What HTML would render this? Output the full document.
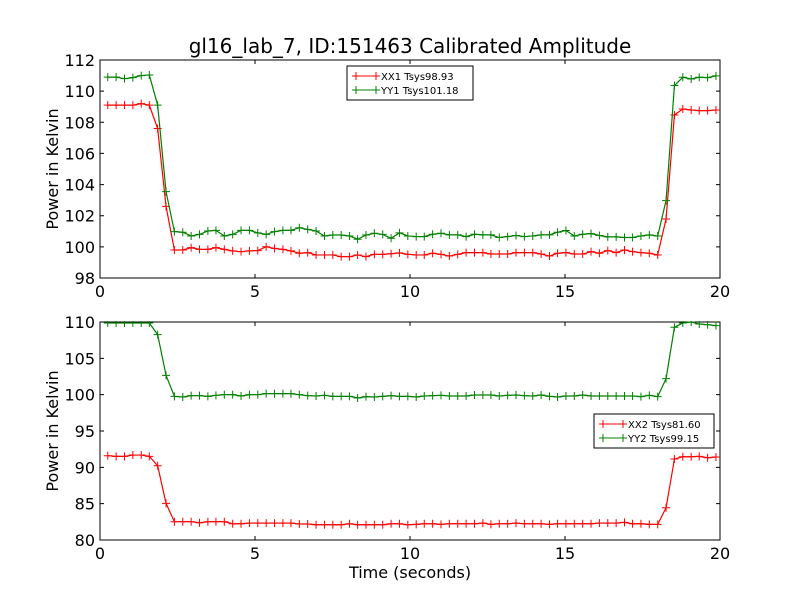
<!DOCTYPE html>
<html><head><meta charset="utf-8"><style>
body{margin:0;background:#fff;}
svg{display:block;font-family:"DejaVu Sans","Liberation Sans",sans-serif;}
</style></head><body>
<svg id="chart" width="800" height="600" viewBox="0 0 800 600">
<rect width="800" height="600" fill="#fff"/>
<text x="410" y="53" font-size="20" text-anchor="middle">gl16_lab_7, ID:151463 Calibrated Amplitude</text>
<text x="410" y="578" font-size="16" text-anchor="middle">Time (seconds)</text>
<g id="top"></g>
<g id="bottom"></g>
</svg>
<script>
const times = [0.25,0.52,0.79,1.06,1.33,1.59,1.86,2.13,2.40,2.67,2.94,3.21,3.48,3.74,4.01,4.28,4.55,4.82,5.09,5.36,5.63,5.90,6.16,6.43,6.70,6.97,7.24,7.51,7.78,8.05,8.31,8.58,8.85,9.12,9.39,9.66,9.93,10.20,10.46,10.73,11.00,11.27,11.54,11.81,12.08,12.35,12.61,12.88,13.15,13.42,13.69,13.96,14.23,14.50,14.76,15.03,15.30,15.57,15.84,16.11,16.38,16.65,16.92,17.18,17.45,17.72,17.99,18.26,18.53,18.80,19.07,19.33,19.60,19.87];
const xx1 = [109.1,109.1,109.1,109.1,109.2,109.1,107.6,102.6,99.8,99.8,99.95,99.84,99.84,99.95,99.84,99.74,99.69,99.74,99.76,100.01,99.9,99.84,99.74,99.59,99.63,99.48,99.48,99.48,99.37,99.37,99.48,99.37,99.52,99.52,99.56,99.61,99.52,99.48,99.48,99.59,99.52,99.41,99.52,99.63,99.63,99.63,99.54,99.54,99.54,99.63,99.63,99.63,99.54,99.41,99.59,99.63,99.54,99.54,99.69,99.59,99.76,99.63,99.8,99.69,99.63,99.59,99.48,101.79,108.47,108.85,108.79,108.75,108.75,108.79];
const yy1 = [110.9,110.9,110.8,110.87,111.0,111.04,109.1,103.55,100.98,100.94,100.7,100.8,101.02,101.06,100.7,100.8,101.06,101.06,100.9,100.8,100.98,101.06,101.06,101.23,101.12,101.02,100.7,100.76,100.76,100.7,100.49,100.76,100.87,100.8,100.55,100.9,100.7,100.66,100.66,100.81,100.87,100.77,100.77,100.66,100.81,100.77,100.77,100.6,100.66,100.73,100.66,100.7,100.77,100.77,100.94,101.05,100.7,100.81,100.85,100.73,100.64,100.64,100.6,100.6,100.7,100.77,100.7,102.97,110.36,110.89,110.78,110.89,110.87,110.98];
const xx2 = [91.6,91.51,91.51,91.69,91.69,91.51,90.22,85.04,82.52,82.52,82.52,82.38,82.52,82.52,82.52,82.24,82.24,82.33,82.33,82.33,82.33,82.33,82.33,82.2,82.2,82.1,82.1,82.1,82.1,82.24,82.1,82.1,82.1,82.1,82.24,82.24,82.1,82.15,82.24,82.24,82.15,82.24,82.24,82.24,82.24,82.33,82.15,82.24,82.24,82.33,82.24,82.24,82.24,82.15,82.24,82.24,82.24,82.24,82.24,82.33,82.33,82.33,82.42,82.24,82.24,82.15,82.15,84.44,91.14,91.46,91.46,91.51,91.32,91.42];
const yy2 = [109.86,109.86,109.86,109.86,109.86,109.86,108.26,102.66,99.77,99.68,99.86,99.86,99.77,99.91,100.0,100.0,99.82,100.0,100.0,100.14,100.14,100.14,100.14,100.0,99.86,99.82,99.91,99.77,99.77,99.77,99.54,99.73,99.68,99.77,99.86,99.77,99.77,99.68,99.82,99.86,99.91,99.82,99.82,99.82,99.95,99.95,99.95,99.82,99.91,99.95,99.86,99.82,99.95,99.77,99.68,99.82,99.82,99.95,99.82,99.82,99.82,99.82,99.82,99.82,99.73,99.91,99.73,102.2,109.27,109.86,110.0,109.72,109.63,109.5];
const xTicks = [0,5,10,15,20];
const topYTicks = [98,100,102,104,106,108,110,112];
const botYTicks = [80,85,90,95,100,105,110];
const topLegend = ["XX1 Tsys98.93","YY1 Tsys101.18"];
const botLegend = ["XX2 Tsys81.60","YY2 Tsys99.15"];

const NS="http://www.w3.org/2000/svg";
function mk(parent,tag,attrs){const e=document.createElementNS(NS,tag);for(const k in attrs)e.setAttribute(k,attrs[k]);parent.appendChild(e);return e;}

function panel(g,prefix,L,T,R,B,ymin,ymax,yTicks,series,legend,lg){
  const sx=v=>L+(v-0)/(20-0)*(R-L);
  const sy=v=>B-(v-ymin)/(ymax-ymin)*(B-T);
  const fr=mk(g,'rect',{x:L,y:T,width:R-L,height:B-T,fill:'none',stroke:'#000','stroke-width':1});
  
  
  xTicks.forEach(t=>{
    const x=sx(t);
    const tk=mk(g,'path',{d:`M${x},${B}v-4M${x},${T}v4`,stroke:'#000','stroke-width':1});
    
    
    const tl=mk(g,'text',{x:x,y:B+19,'font-size':16,'text-anchor':'middle'});tl.textContent=t;
    
    
  });
  yTicks.forEach(t=>{
    const y=sy(t);
    const tk=mk(g,'path',{d:`M${L},${y}h4M${R},${y}h-4`,stroke:'#000','stroke-width':1});
    
    
    const tl=mk(g,'text',{x:L-5,y:y+6,'font-size':16,'text-anchor':'end'});tl.textContent=t;
    
    
  });
  const yt=mk(g,'text',{x:0,y:0,'font-size':16,'text-anchor':'middle',transform:`translate(58,${(T+B)/2}) rotate(-90)`});
  yt.textContent='Power in Kelvin';
  
  
  const cl=mk(g,'clipPath',{id:prefix+'clip'});mk(cl,'rect',{x:L,y:T-1,width:R-L,height:B-T+2});
  series.forEach((s,si)=>{
    const sg=mk(g,'g',{'clip-path':`url(#${prefix}clip)`});
    
    
    const pts=times.map((t,i)=>sx(t).toFixed(2)+','+sy(s.vals[i]).toFixed(2)).join(' ');
    const ln=mk(sg,'polyline',{points:pts,fill:'none',stroke:s.color,'stroke-width':1.2});
    
    
    let d='';
    times.forEach((t,i)=>{const x=sx(t),y=sy(s.vals[i]);d+=`M${x-4},${y}h8M${x},${y-4}v8`;});
    const mkp=mk(sg,'path',{d:d,stroke:s.color,'stroke-width':1});
    
    
  });
  const lgG=mk(g,'g',{});
  
  
  mk(lgG,'rect',{x:lg.x,y:lg.y,width:lg.w,height:34,fill:'#fff',stroke:'#000','stroke-width':1});
  legend.forEach((lab,i)=>{
    const y=lg.y+10+i*14, c=series[i].color;
    const e=mk(lgG,'path',{d:`M${lg.x+5},${y}h28M${lg.x+9},${y-4}v8M${lg.x+29},${y-4}v8`,stroke:c,'stroke-width':1});
    
    
    const tx=mk(lgG,'text',{x:lg.x+lg.tx,y:y+4,'font-size':lg.fs});tx.textContent=lab;
    
    
  });
}
panel(document.getElementById('top'),'top',100,60,720,278,98,112,topYTicks,
  [{vals:xx1,color:'#ff0000'},{vals:yy1,color:'#008000'}],topLegend,{x:347,y:66,w:126,tx:34,fs:10});
panel(document.getElementById('bottom'),'bottom',100,322,720,540,80,110,botYTicks,
  [{vals:xx2,color:'#ff0000'},{vals:yy2,color:'#008000'}],botLegend,{x:594,y:414,w:120,tx:34,fs:10});
</script>
</body></html>
